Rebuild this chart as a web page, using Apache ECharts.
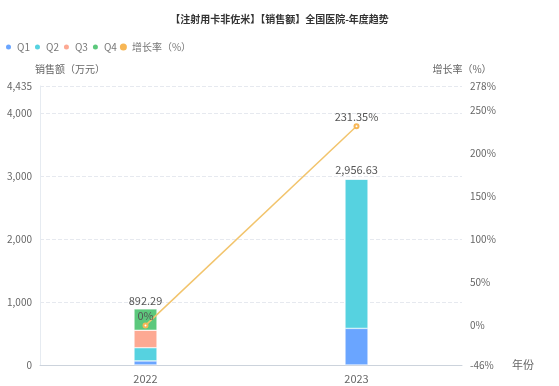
<!DOCTYPE html>
<html>
<head>
<meta charset="utf-8">
<script src="https://cdn.jsdelivr.net/npm/echarts@6/dist/echarts.min.js"></script>
<style>html,body{margin:0;padding:0;background:#fff;}#c{width:559px;height:386px;}</style>
</head>
<body>
<div id="c"></div>
<script>
const years = ['2022', '2023'];
const q1 = [65, 582];
const q2 = [210, 2374.63];
const q3 = [277, 0];
const q4 = [340.29, 0];
const totals = [892.29, 2956.63];
const growth = [0, 231.35];

const FONT = '"Noto Sans CJK SC", "Noto Sans", sans-serif';
const fmt = v => v.toLocaleString('en-US', {minimumFractionDigits: 2, maximumFractionDigits: 2});

const chart = echarts.init(document.getElementById('c'));
const barCommon = {
  type: 'bar', stack: 'sales', barWidth: 23,
  itemStyle: { borderColor: '#fff', borderWidth: 0.5 }
};
chart.setOption({
  textStyle: { fontFamily: FONT },
  title: {
    text: '【注射用卡非佐米】【销售额】全国医院-年度趋势',
    left: 'center', top: 9,
    textStyle: { fontSize: 10, fontWeight: 'bold', color: '#333', fontFamily: FONT }
  },
  legend: {
    left: 4, top: 42, padding: 0, itemWidth: 7, itemHeight: 7, itemGap: 3,
    icon: 'circle',
    textStyle: { fontSize: 10, color: '#777', fontFamily: FONT },
    data: ['Q1', 'Q2', 'Q3', 'Q4', '增长率（%）']
  },
  grid: { left: 40, right: 97, top: 86, bottom: 21, containLabel: false },
  xAxis: {
    type: 'category', data: years,
    name: '年份', nameGap: 50,
    nameTextStyle: { color: '#666', fontSize: 11 },
    axisLine: { lineStyle: { color: '#ccd3dc' } },
    axisTick: { lineStyle: { color: '#ccd3dc' } },
    axisLabel: { color: '#666', fontSize: 11 }
  },
  yAxis: [{
    type: 'value', min: 0, max: 4435,
    name: '销售额（万元）', nameGap: 12,
    nameTextStyle: { color: '#666', fontSize: 10, align: 'left', padding: [0, 0, 0, -5] },
    axisLine: { show: true, lineStyle: { color: '#e6ebf1' } },
    axisLabel: { color: '#666', fontSize: 10 },
    splitLine: { lineStyle: { type: 'dashed', color: '#e6e9ef' } }
  }, {
    type: 'value', min: -46, max: 278,
    name: '增长率（%）', nameGap: 12,
    nameTextStyle: { color: '#666', fontSize: 10 },
    axisLine: { show: false },
    axisLabel: { color: '#666', fontSize: 10, formatter: '{value}%' },
    splitLine: { show: false }
  }],
  series: [
    Object.assign({}, barCommon, { name: 'Q1', data: q1, itemStyle: Object.assign({}, barCommon.itemStyle, { color: '#6aa5ff' }) }),
    Object.assign({}, barCommon, { name: 'Q2', data: q2, itemStyle: Object.assign({}, barCommon.itemStyle, { color: '#56d2e0' }) }),
    Object.assign({}, barCommon, { name: 'Q3', data: q3, itemStyle: Object.assign({}, barCommon.itemStyle, { color: '#fda993' }) }),
    Object.assign({}, barCommon, { name: 'Q4', data: q4, itemStyle: Object.assign({}, barCommon.itemStyle, { color: '#5cc87c' }),
      label: { show: true, position: 'top', distance: 3, color: '#555', fontSize: 11,
        formatter: p => fmt(totals[p.dataIndex]) } }),
    {
      name: '增长率（%）', type: 'line', yAxisIndex: 1, data: growth,
      symbol: 'emptyCircle', symbolSize: 4,
      itemStyle: { color: '#f7b655' },
      lineStyle: { color: '#f2c46c', width: 1.5 },
      label: { show: true, position: 'top', distance: 1, color: '#555', fontSize: 11, formatter: '{c}%' },
      z: 5
    }
  ]
});
</script>
</body>
</html>
